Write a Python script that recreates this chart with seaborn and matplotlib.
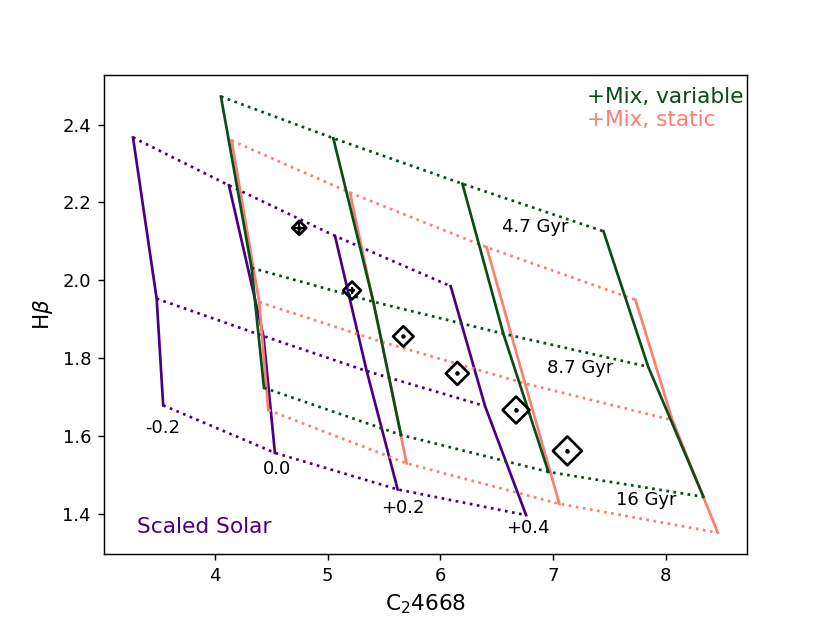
import numpy as np
import matplotlib
matplotlib.use("Agg")
import matplotlib.pyplot as plt
import seaborn as sns

# grid values, rows = metallicity (-0.2, 0.0, +0.2, +0.4), cols = age (4.7, 8.7, 16 Gyr)
ages = ["4.7 Gyr", "8.7 Gyr", "16 Gyr"]
metals = ["-0.2", "0.0", "+0.2", "+0.4"]

# Scaled Solar
ss_c2 = [[3.273, 3.483, 3.541], [4.124, 4.430, 4.532], [5.065, 5.346, 5.621], [6.091, 6.396, 6.760]]
ss_hb = [[2.367, 1.953, 1.679], [2.244, 1.857, 1.557], [2.114, 1.767, 1.463], [1.985, 1.677, 1.397]]

# +Mix, variable
mv_c2 = [[4.053, 4.325, 4.435], [5.050, 5.405, 5.650], [6.195, 6.558, 6.958], [7.446, 7.843, 8.333]]
mv_hb = [[2.472, 2.032, 1.724], [2.365, 1.945, 1.603], [2.248, 1.863, 1.508], [2.126, 1.778, 1.444]]

# +Mix, static
ms_c2 = [[4.148, 4.393, 4.473], [5.198, 5.479, 5.700], [6.410, 6.751, 7.055], [7.730, 8.058, 8.460]]
ms_hb = [[2.359, 1.944, 1.667], [2.225, 1.842, 1.530], [2.085, 1.735, 1.426], [1.950, 1.641, 1.352]]

# observed points
obs_c2 = [4.748, 5.216, 5.671, 6.150, 6.671, 7.126]
obs_hb = [2.135, 1.974, 1.856, 1.761, 1.667, 1.562]
obs_c2_err = [0.055, 0.025, 0.01, 0.01, 0.01, 0.01]
obs_hb_err = [0.017, 0.010, 0.004, 0.004, 0.004, 0.004]
obs_size = [5.5, 7.0, 8.0, 9.0, 10.5, 11.3]

c_ss = "#4b0082"
c_mv = "#0b4d16"
c_ms = "salmon"

fig, ax = plt.subplots(figsize=(830 / 130, 623 / 130), dpi=130)


def draw_grid(c2, hb, color):
    c2 = np.array(c2)
    hb = np.array(hb)
    # constant metallicity -> solid
    for i in range(c2.shape[0]):
        sns.lineplot(x=c2[i], y=hb[i], sort=False, estimator=None, color=color,
                     lw=1.5, ls="-", ax=ax)
    # constant age -> dotted
    for j in range(c2.shape[1]):
        sns.lineplot(x=c2[:, j], y=hb[:, j], sort=False, estimator=None, color=color,
                     lw=1.5, ls=":", ax=ax)


draw_grid(ss_c2, ss_hb, c_ss)
draw_grid(ms_c2, ms_hb, c_ms)
draw_grid(mv_c2, mv_hb, c_mv)

# data points
ax.errorbar(obs_c2, obs_hb, xerr=obs_c2_err, yerr=obs_hb_err, fmt=".", color="k",
            ms=3, elinewidth=1.2, zorder=5)
sns.scatterplot(x=obs_c2, y=obs_hb, marker="D", s=np.array(obs_size) ** 2,
                facecolor="none", edgecolor="k", linewidth=1.5, zorder=6, ax=ax)

# labels on the grid
label_pos = {"-0.2": (3.54, 1.62), "0.0": (4.55, 1.515), "+0.2": (5.67, 1.415), "+0.4": (6.78, 1.364)}
for m in metals:
    ax.text(*label_pos[m], m, ha="center", va="center", fontsize=10)
age_pos = {"4.7 Gyr": (6.84, 2.136), "8.7 Gyr": (7.24, 1.774), "16 Gyr": (7.83, 1.436)}
for a in ages:
    ax.text(*age_pos[a], a, ha="center", va="center", fontsize=10)

ax.text(0.751, 0.954, "+Mix, variable", color=c_mv, fontsize=12, transform=ax.transAxes, va="center")
ax.text(0.751, 0.905, "+Mix, static", color=c_ms, fontsize=12, transform=ax.transAxes, va="center")
ax.text(0.052, 0.057, "Scaled Solar", color=c_ss, fontsize=12, transform=ax.transAxes, va="center")

ax.set_xlabel("C$_2$4668", fontsize=12)
ax.set_ylabel(r"H$\beta$", fontsize=12)

fig.savefig("out.png", dpi=130)
